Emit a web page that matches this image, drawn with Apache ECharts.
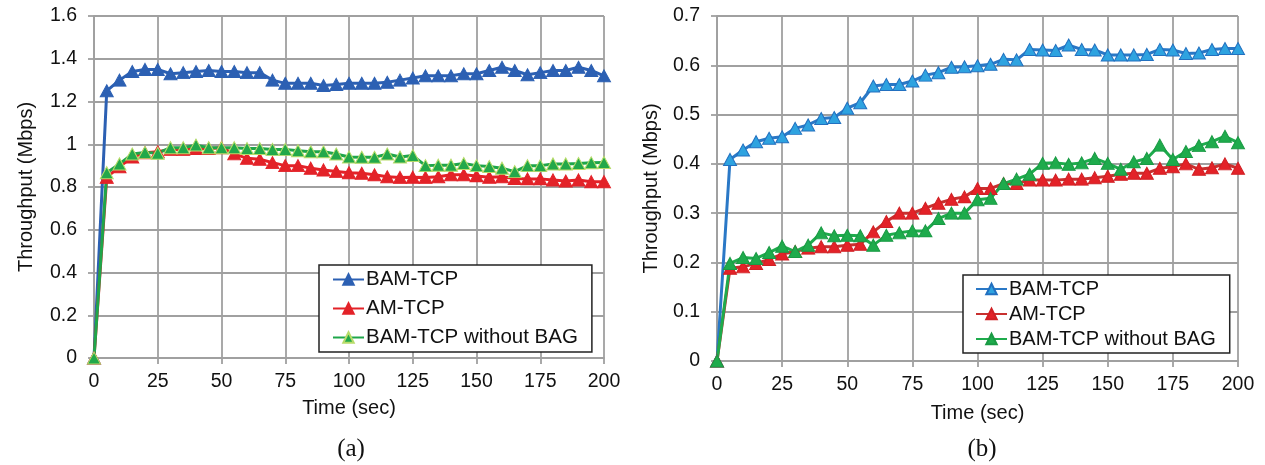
<!DOCTYPE html>
<html>
<head>
<meta charset="utf-8">
<script src="https://cdn.jsdelivr.net/npm/echarts@6/dist/echarts.min.js"></script>
<style>
  html, body { margin: 0; padding: 0; background: #fff; }
  #chart { width: 1265px; height: 465px; }
</style>
</head>
<body>
<div id="chart"></div>
<script>
// time in seconds, shared by both panels
const timeSec = [0, 5, 10, 15, 20, 25, 30, 35, 40, 45, 50, 55, 60, 65, 70, 75, 80, 85, 90, 95, 100,
  105, 110, 115, 120, 125, 130, 135, 140, 145, 150, 155, 160, 165, 170, 175, 180, 185, 190, 195, 200];

// panel (a)
const bamA = [0, 1.25, 1.30, 1.34, 1.35, 1.35, 1.33, 1.335, 1.34, 1.345, 1.34, 1.34, 1.335, 1.335, 1.30, 1.285, 1.285, 1.285, 1.275, 1.28, 1.285,
  1.285, 1.285, 1.29, 1.30, 1.31, 1.32, 1.32, 1.32, 1.33, 1.33, 1.345, 1.36, 1.345, 1.325, 1.335, 1.345, 1.345, 1.36, 1.345, 1.32];
const amA = [0, 0.845, 0.895, 0.94, 0.96, 0.965, 0.976, 0.976, 0.98, 0.98, 0.984, 0.955, 0.934, 0.93, 0.914, 0.90, 0.90, 0.888, 0.88, 0.872, 0.867,
  0.864, 0.857, 0.848, 0.845, 0.846, 0.845, 0.848, 0.857, 0.857, 0.852, 0.846, 0.848, 0.84, 0.838, 0.838, 0.833, 0.828, 0.833, 0.825, 0.825];
const noBagA = [0, 0.867, 0.908, 0.954, 0.962, 0.958, 0.984, 0.984, 0.996, 0.984, 0.984, 0.984, 0.98, 0.98, 0.976, 0.976, 0.97, 0.965, 0.965, 0.954, 0.94,
  0.939, 0.939, 0.954, 0.94, 0.947, 0.90, 0.902, 0.902, 0.91, 0.90, 0.896, 0.888, 0.872, 0.90, 0.90, 0.908, 0.908, 0.91, 0.913, 0.915];

// panel (b)
const bamB = [0, 0.409, 0.428, 0.445, 0.452, 0.455, 0.472, 0.479, 0.492, 0.494, 0.513, 0.524, 0.558, 0.561, 0.561, 0.568, 0.58, 0.585, 0.596, 0.597, 0.599,
  0.602, 0.612, 0.611, 0.632, 0.631, 0.63, 0.641, 0.632, 0.631, 0.621, 0.621, 0.621, 0.622, 0.632, 0.631, 0.624, 0.625, 0.632, 0.634, 0.634];
const amB = [0, 0.188, 0.191, 0.198, 0.206, 0.217, 0.222, 0.229, 0.232, 0.232, 0.235, 0.237, 0.262, 0.283, 0.30, 0.30, 0.31, 0.32, 0.328, 0.333, 0.35,
  0.35, 0.36, 0.36, 0.367, 0.367, 0.367, 0.369, 0.369, 0.372, 0.375, 0.379, 0.381, 0.381, 0.391, 0.394, 0.40, 0.389, 0.392, 0.40, 0.391];
const noBagB = [0, 0.198, 0.21, 0.208, 0.22, 0.233, 0.222, 0.235, 0.26, 0.254, 0.255, 0.254, 0.235, 0.255, 0.26, 0.264, 0.264, 0.289, 0.30, 0.30, 0.327,
  0.33, 0.36, 0.369, 0.379, 0.401, 0.402, 0.399, 0.402, 0.411, 0.401, 0.389, 0.404, 0.411, 0.438, 0.409, 0.425, 0.437, 0.445, 0.456, 0.443];

const names = ['BAM-TCP', 'AM-TCP', 'BAM-TCP without BAG'];
const yTicksA = { min: 0, max: 1.6, interval: 0.2 };
const yTicksB = { min: 0, max: 0.7, interval: 0.1 };

const FONT = '"Liberation Sans", Arial, sans-serif';
const GRID_GRAY = '#a0a0a0';
const TXT = 19.5;

const pairs = (vals) => vals.map((v, i) => [timeSec[i], v]);

const xAxisOf = (gridIndex, nameGap) => ({
  gridIndex,
  type: 'value',
  min: 0,
  max: 200,
  interval: 25,
  name: 'Time (sec)',
  nameLocation: 'middle',
  nameGap,
  nameTextStyle: { fontFamily: FONT, fontSize: 20, color: '#111' },
  axisLine: { lineStyle: { color: GRID_GRAY, width: 1.8 } },
  axisTick: { show: true, length: 6, lineStyle: { color: GRID_GRAY, width: 1.8 } },
  axisLabel: { fontFamily: FONT, fontSize: TXT, color: '#111', margin: 14 },
  splitLine: { show: true, lineStyle: { color: GRID_GRAY, width: 1.8 } },
});

const yAxisOf = (gridIndex, ticks, nameGap) => ({
  gridIndex,
  type: 'value',
  min: ticks.min,
  max: ticks.max,
  interval: ticks.interval,
  name: 'Throughput (Mbps)',
  nameLocation: 'middle',
  nameGap,
  nameTextStyle: { fontFamily: FONT, fontSize: 20, color: '#111' },
  axisLine: { show: true, lineStyle: { color: GRID_GRAY, width: 1.8 } },
  axisTick: { show: true, length: 6, lineStyle: { color: GRID_GRAY, width: 1.8 } },
  axisLabel: {
    fontFamily: FONT, fontSize: TXT, color: '#111', margin: 17,
    formatter: (v) => (v === 0 ? '0' : (+v.toFixed(1)).toString()),
  },
  splitLine: { show: true, lineStyle: { color: GRID_GRAY, width: 1.8 } },
});

const lineSeries = (name, idx, vals, lineColor, fill, border) => ({
  name,
  type: 'line',
  xAxisIndex: idx,
  yAxisIndex: idx,
  data: pairs(vals),
  symbol: 'triangle',
  symbolSize: [13, 12],
  showAllSymbol: true,
  lineStyle: { color: lineColor, width: 3 },
  itemStyle: { color: fill, borderColor: border, borderWidth: 1 },
  emphasis: { disabled: true },
  animation: false,
});

const colA = {
  bam: ['#2c60b3', '#2c60b3', '#2c60b3'],
  am: ['#e32228', '#e32228', '#e32228'],
  nobag: ['#1fa64a', '#22a84a', '#b8dc6a'],
};
const colB = {
  bam: ['#2a78c6', '#2ea3e0', '#2270c0'],
  am: ['#c8302f', '#e32228', '#d02024'],
  nobag: ['#1eab4c', '#1eab4c', '#1a9a44'],
};

const legendOf = (left, top, fontSize, itemGap, pad, cols) => ({
  orient: 'vertical',
  left,
  top,
  padding: pad,
  itemGap,
  itemWidth: 31,
  itemHeight: 13,
  borderColor: '#222',
  borderWidth: 1.5,
  backgroundColor: '#fff',
  textStyle: { fontFamily: FONT, fontSize, color: '#111', padding: [0, 0, 0, -3] },
  selectedMode: false,
  data: [
    { name: names[0], itemStyle: { color: cols.bam[1], borderColor: cols.bam[2] }, lineStyle: { color: cols.bam[0] } },
    { name: names[1], itemStyle: { color: cols.am[1], borderColor: cols.am[2] }, lineStyle: { color: cols.am[0] } },
    { name: names[2], itemStyle: { color: cols.nobag[1], borderColor: cols.nobag[2] }, lineStyle: { color: cols.nobag[0] } },
  ],
});

const captionStyle = { fontFamily: '"Liberation Serif", serif', fontSize: 25, fontWeight: 'normal', color: '#111' };

const chart = echarts.init(document.getElementById('chart'), null, { renderer: 'canvas' });
chart.setOption({
  backgroundColor: '#fff',
  animation: false,
  title: [
    { text: '(a)', left: 351, top: 437, padding: 0, textAlign: 'center', textStyle: captionStyle },
    { text: '(b)', left: 982, top: 437, padding: 0, textAlign: 'center', textStyle: captionStyle },
  ],
  grid: [
    { left: 94, top: 16, width: 510, height: 342 },
    { left: 717, top: 16, width: 521, height: 345 },
  ],
  xAxis: [xAxisOf(0, 40), xAxisOf(1, 42)],
  yAxis: [yAxisOf(0, yTicksA, 58), yAxisOf(1, yTicksB, 56)],
  legend: [
    legendOf(319, 265, 20.5, 8, [4, 14, 4, 13], colA),
    legendOf(963, 275, 20, 5, [4, 14, 4, 12], colB),
  ],
  series: [
    lineSeries(names[0], 0, bamA, ...colA.bam),
    lineSeries(names[1], 0, amA, ...colA.am),
    lineSeries(names[2], 0, noBagA, ...colA.nobag),
    lineSeries(names[0], 1, bamB, ...colB.bam),
    lineSeries(names[1], 1, amB, ...colB.am),
    lineSeries(names[2], 1, noBagB, ...colB.nobag),
  ],
});
</script>
</body>
</html>
